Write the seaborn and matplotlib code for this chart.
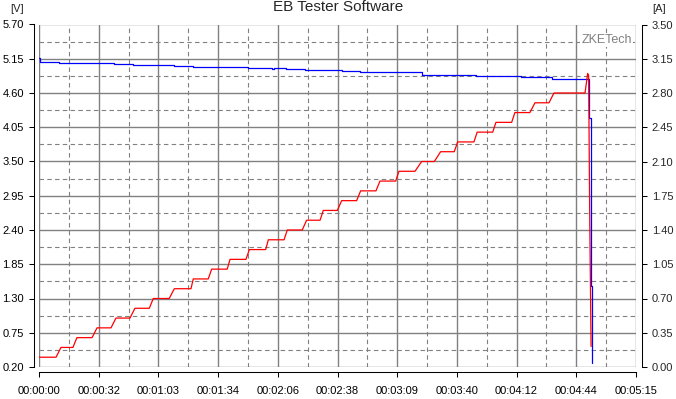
import numpy as np
import matplotlib
matplotlib.use('Agg')
import matplotlib.pyplot as plt
import seaborn as sns

# voltage [V] over time [s], stepwise readings
volt_time = [0, 0.5, 10.6, 39.6, 49.6, 71.2, 81.3, 110.3, 122.8, 123.8, 130.3,
             140.3, 159.7, 169.4, 202.1, 230.6, 254.3, 270.7, 290.2, 291.0, 291.6]
volt_value = [5.16, 5.09, 5.075, 5.06, 5.045, 5.03, 5.015, 5.00, 4.985, 5.00, 4.98,
              4.965, 4.95, 4.935, 4.895, 4.87, 4.85, 4.83, 4.20, 1.50, 0.26]

# current [A] over time [s], staircase load
curr_time = [0, 9.0, 11.6, 17.9, 20.0, 28.0, 30.6, 38.0, 40.6, 48.0, 50.6,
             58.2, 60.3, 68.7, 71.4, 80.2, 81.4, 89.3, 91.1, 99.3, 100.8,
             109.2, 111.0, 119.6, 121.0, 129.3, 131.0, 138.9, 141.2, 148.3, 150.0,
             157.4, 159.7, 167.6, 169.7, 177.8, 179.9, 188.2, 189.9, 198.4, 201.9,
             208.6, 211.9, 219.1, 220.9, 229.5, 231.2, 239.4, 241.1, 249.4, 251.1,
             259.0, 261.7, 269.1, 271.7, 288.1, 289.5, 290.0, 290.6, 291.3]
curr_value = [0.10, 0.10, 0.20, 0.20, 0.30, 0.30, 0.40, 0.40, 0.50, 0.50, 0.60,
              0.60, 0.70, 0.70, 0.80, 0.80, 0.90, 0.90, 1.00, 1.00, 1.10,
              1.10, 1.20, 1.20, 1.30, 1.30, 1.40, 1.40, 1.50, 1.50, 1.60,
              1.60, 1.70, 1.70, 1.80, 1.80, 1.90, 1.90, 2.00, 2.00, 2.10,
              2.10, 2.20, 2.20, 2.30, 2.30, 2.40, 2.40, 2.50, 2.50, 2.60,
              2.60, 2.70, 2.70, 2.80, 2.80, 3.00, 2.98, 1.50, 0.21]

time_ticks = [0, 31.5, 63, 94.5, 126, 157.5, 189, 220.5, 252, 283.5, 315]
time_labels = ['00:00:00', '00:00:32', '00:01:03', '00:01:34', '00:02:06', '00:02:38',
               '00:03:09', '00:03:40', '00:04:12', '00:04:44', '00:05:15']
volt_ticks = np.linspace(0.20, 5.70, 11)
curr_ticks = np.linspace(0.00, 3.50, 11)

sns.set_style('white')
plt.rcParams['font.family'] = ['Liberation Sans', 'DejaVu Sans']

fig = plt.figure(figsize=(6.76, 3.99), dpi=100)
ax = fig.add_axes([39 / 676, 1 - 367 / 399, 597 / 676, 342.5 / 399])
ax2 = ax.twinx()

sns.lineplot(x=volt_time, y=volt_value, ax=ax, color='#0000ff', lw=0.9,
             drawstyle='steps-post', estimator=None, sort=False)
sns.lineplot(x=curr_time, y=curr_value, ax=ax2, color='#ff0000', lw=0.9,
             estimator=None, sort=False)

ax.set_xlim(0, 315)
ax.set_ylim(0.20, 5.70)
ax2.set_ylim(0.0, 3.50)

ax.set_xticks(time_ticks)
ax.set_xticklabels(time_labels)
ax.set_xticks([t + 15.75 for t in time_ticks[:-1]], minor=True)
ax.set_yticks(volt_ticks)
ax.set_yticklabels([f'{v:.2f}' for v in volt_ticks])
ax.set_yticks(volt_ticks[:-1] + 0.275, minor=True)
ax2.set_yticks(curr_ticks)
ax2.set_yticklabels([f'{v:.2f}' for v in curr_ticks])

# grid: solid majors, dashed minors
ax.grid(True, which='major', color='#808080', lw=1.0, ls='-')
ax.grid(True, which='minor', color='#808080', lw=0.8, ls=(0, (4, 3)))
ax.set_axisbelow(True)
ax2.grid(False)

ax.tick_params(which='major', direction='out', length=3.6, width=0.75, color='black',
               labelsize=8, labelcolor='black')
ax.tick_params(axis='x', which='major', pad=6.5)
ax.tick_params(axis='y', which='major', pad=3.5, left=True)
ax.tick_params(axis='x', which='major', bottom=True)
ax.tick_params(which='minor', length=0)
ax2.tick_params(axis='y', direction='out', length=3.6, width=0.75, color='black',
                labelsize=8, pad=3.5, right=True)

for s in ['top', 'right']:
    ax.spines[s].set_visible(False)
for s in ['top', 'left', 'bottom']:
    ax2.spines[s].set_visible(False)
ax.spines['left'].set_position(('outward', 3.6))
ax.spines['bottom'].set_position(('outward', 3.6))
ax2.spines['right'].set_position(('outward', 4.3))
for sp in [ax.spines['left'], ax.spines['bottom'], ax2.spines['right']]:
    sp.set_color('black')
    sp.set_linewidth(0.75)

ax.set_xlabel('')
ax.set_ylabel('')
ax2.set_ylabel('')

fig.text(0.5, 1 - 11 / 399, 'EB Tester Software', ha='center', va='baseline', fontsize=11)
fig.text(17 / 676, 1 - 11.7 / 399, '[V]', ha='center', va='baseline', fontsize=8)
fig.text(659 / 676, 1 - 11.7 / 399, '[A]', ha='center', va='baseline', fontsize=8)
ax2.text(0.993, 0.955, 'ZKETech', transform=ax.transAxes, ha='right', va='center',
         fontsize=9, color='#808080', zorder=5,
         bbox=dict(facecolor='white', edgecolor='none', pad=1.0))

fig.savefig('out.png', dpi=100, facecolor='white')
